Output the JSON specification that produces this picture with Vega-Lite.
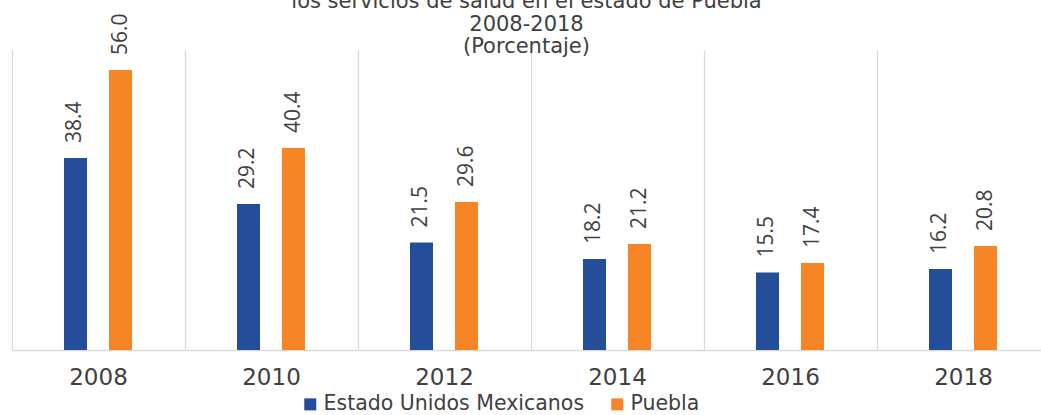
{
  "$schema": "https://vega.github.io/schema/vega-lite/v6.json",
  "width": 1029,
  "height": 300,
  "autosize": {"type": "none"},
  "padding": {"left": 12, "top": 50, "right": 0, "bottom": 65},
  "background": "white",
  "title": {
    "text": ["los servicios de salud en el estado de Puebla", "2008-2018", "(Porcentaje)"],
    "anchor": "middle",
    "baseline": "bottom",
    "offset": -65,
    "lineHeight": 22.5,
    "font": "DejaVu Sans",
    "fontSize": 21,
    "fontWeight": "normal",
    "color": "#404040"
  },
  "data": {
    "values": [
      {"year": "2008", "serie": "Estado Unidos Mexicanos", "valor": 38.4},
      {"year": "2008", "serie": "Puebla", "valor": 56.0},
      {"year": "2010", "serie": "Estado Unidos Mexicanos", "valor": 29.2},
      {"year": "2010", "serie": "Puebla", "valor": 40.4},
      {"year": "2012", "serie": "Estado Unidos Mexicanos", "valor": 21.5},
      {"year": "2012", "serie": "Puebla", "valor": 29.6},
      {"year": "2014", "serie": "Estado Unidos Mexicanos", "valor": 18.2},
      {"year": "2014", "serie": "Puebla", "valor": 21.2},
      {"year": "2016", "serie": "Estado Unidos Mexicanos", "valor": 15.5},
      {"year": "2016", "serie": "Puebla", "valor": 17.4},
      {"year": "2018", "serie": "Estado Unidos Mexicanos", "valor": 16.2},
      {"year": "2018", "serie": "Puebla", "valor": 20.8}
    ]
  },
  "encoding": {
    "x": {
      "field": "year",
      "type": "nominal",
      "scale": {"range": [0, 1038], "paddingInner": 0, "paddingOuter": 0},
      "axis": {
        "title": null,
        "bandPosition": 0,
        "labelOffset": 0,
        "ticks": false,
        "grid": true,
        "gridColor": "#d9d9d9",
        "gridWidth": 1.2,
        "domainColor": "#d9d9d9",
        "domainWidth": 1.5,
        "labelAngle": 0,
        "labelFont": "DejaVu Sans",
        "labelFontSize": 23,
        "labelColor": "#404040",
        "labelPadding": 16
      }
    },
    "xOffset": {
      "field": "serie",
      "type": "nominal",
      "scale": {"range": [52, 120], "paddingInner": 0.489, "paddingOuter": 0}
    },
    "y": {
      "field": "valor",
      "type": "quantitative",
      "scale": {"domain": [0, 60]},
      "axis": null
    }
  },
  "layer": [
    {
      "mark": {"type": "bar"},
      "encoding": {
        "color": {
          "field": "serie",
          "type": "nominal",
          "scale": {"range": ["#244e99", "#f68526"]},
          "legend": {
            "title": null,
            "orient": "none",
            "direction": "horizontal",
            "legendX": 288,
            "legendY": 344,
            "padding": 0,
            "symbolType": "square",
            "symbolSize": 144,
            "symbolStrokeWidth": 0,
            "labelFont": "DejaVu Sans",
            "labelFontSize": 20.5,
            "labelColor": "#404040",
            "labelOffset": 3,
            "labelLimit": 400,
            "columnPadding": 22
          }
        }
      }
    },
    {
      "mark": {
        "type": "text",
        "angle": 270,
        "align": "left",
        "baseline": "middle",
        "dx": 15,
        "font": "Open Sans",
        "fontSize": 21,
        "color": "#404040"
      },
      "encoding": {
        "text": {"field": "valor", "type": "quantitative", "format": ".1f"}
      }
    }
  ],
  "config": {"view": {"stroke": null}}
}
